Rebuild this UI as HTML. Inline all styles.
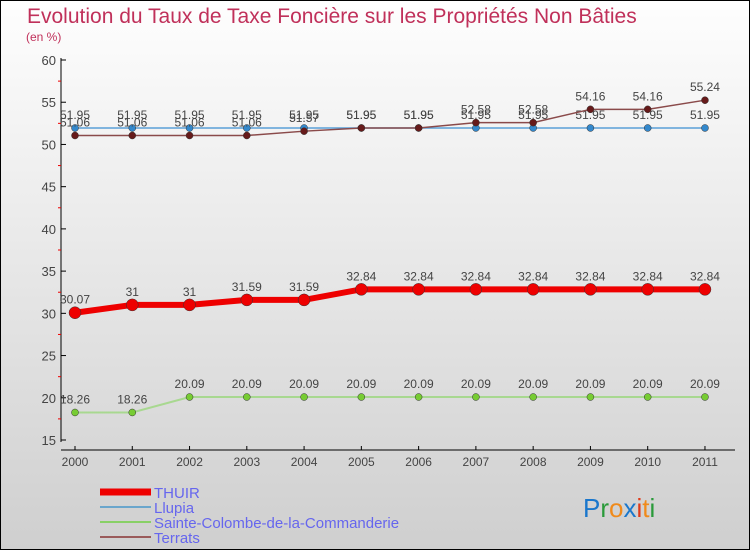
<!DOCTYPE html>
<html><head><meta charset="utf-8"><style>
body{margin:0}
#c{width:750px;height:550px;position:relative;box-sizing:border-box;border:1px solid #000;background:linear-gradient(#fefefe,#cfcfcf);font-family:"Liberation Sans",sans-serif;overflow:hidden}
</style></head><body>
<div id="c">
<svg id="s" width="750" height="550" style="position:absolute;left:-1px;top:-1px">
<text x="27" y="23" font-size="21" fill="#c0305a">Evolution du Taux de Taxe Foncière sur les Propriétés Non Bâties</text>
<text x="26" y="41" font-size="12" fill="#c0305a">(en %)</text>
</svg>
</div>
<script>
const years=["2000","2001","2002","2003","2004","2005","2006","2007","2008","2009","2010","2011"];
const thuir=[30.07,31,31,31.59,31.59,32.84,32.84,32.84,32.84,32.84,32.84,32.84];
const llupia=[51.95,51.95,51.95,51.95,51.95,51.95,51.95,51.95,51.95,51.95,51.95,51.95];
const sainte=[18.26,18.26,20.09,20.09,20.09,20.09,20.09,20.09,20.09,20.09,20.09,20.09];
const terrats=[51.06,51.06,51.06,51.06,51.57,51.95,51.95,52.58,52.58,54.16,54.16,55.24];
const yTicks=[15,20,25,30,35,40,45,50,55,60];
const seriesNames=["THUIR","Llupia","Sainte-Colombe-de-la-Commanderie","Terrats"];
const svg=document.getElementById('s');const NS="http://www.w3.org/2000/svg";
function X(i){return 75+i*57.27}
function Y(v){return 440-(v-15)*380/45}
function mk(t,a,p){const e=document.createElementNS(NS,t);for(const k in a)e.setAttribute(k,a[k]);(p||svg).appendChild(e);return e}
let ax=mk('line',{x1:61,y1:58,x2:61,y2:442,stroke:'#000'});


let bx=mk('line',{x1:61,y1:450,x2:735,y2:450,stroke:'#000'});


yTicks.forEach(v=>{mk('line',{x1:61,y1:Y(v),x2:66,y2:Y(v),stroke:'#000'});
 if(v<60)mk('line',{x1:58,y1:Y(v+2.5),x2:61,y2:Y(v+2.5),stroke:'#e00'});
 const t=mk('text',{x:56,y:Y(v)+5,'font-size':13,'text-anchor':'end',fill:'#444'});t.textContent=v;
 
 });
years.forEach((y,i)=>{mk('line',{x1:X(i),y1:446,x2:X(i),y2:450,stroke:'#000'});
 const t=mk('text',{x:X(i),y:466,'font-size':12,'text-anchor':'middle',fill:'#444'});t.textContent=y;
 
 });
function series(d,col,w,r,fill,name){
 const g=mk('g',{});
 
 
 mk('polyline',{points:d.map((v,i)=>X(i)+','+Y(v)).join(' '),fill:'none',stroke:col,'stroke-width':w},g);
 d.forEach((v,i)=>{const c=mk('circle',{cx:X(i),cy:Y(v),r:r,fill:fill,stroke:'#333','stroke-width':0.5},g);
 
 
 const t=mk('text',{x:X(i),y:Y(v)-9,'font-size':12,'text-anchor':'middle',fill:'#444'},g);t.textContent=v;});
}
series(sainte,'#a8d890',2,3.5,'#77cc33','series-sainte-colombe');
series(llupia,'#5aa0d8',1.5,3.5,'#3388cc','series-llupia');
series(terrats,'#8a4a4a',1.5,3.5,'#661a1a','series-terrats');
series(thuir,'#ee0000',6,6,'#ee0000','series-thuir');
const lc=['#ee0000','#6aa6cc','#88d066','#9a5a5a'],lw=[7,2,2,2];
seriesNames.forEach((n,i)=>{const y=492+i*15;
 const l=mk('line',{x1:100,y1:y,x2:151,y2:y,stroke:lc[i],'stroke-width':lw[i]});
 
 
 const t=mk('text',{x:154,y:y+6,'font-size':15,fill:'#6666ee'});t.textContent=n;
 
 });
const lg=mk('text',{x:583,y:517,'font-size':26});


[['P','#1a77cc'],['r','#2a9a3a'],['o','#f08a1a'],['x','#1a77cc'],['i','#e03a1a'],['t','#f08a1a'],['i','#2a9a3a']].forEach(([c,f])=>{const s=mk('tspan',{fill:f},lg);s.textContent=c;});
</script>
</body></html>
